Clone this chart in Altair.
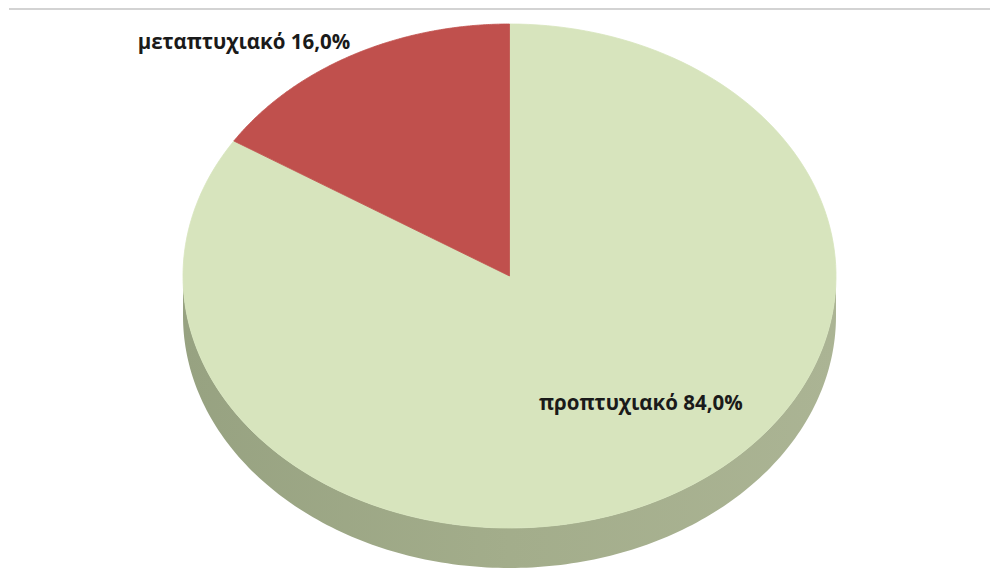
import altair as alt
import pandas as pd

# ---- data ----
categories = ["προπτυχιακό", "μεταπτυχιακό"]
values = [84.0, 16.0]
labels = ["προπτυχιακό 84,0%", "μεταπτυχιακό 16,0%"]
colors = ["#d7e4bd", "#c0504d"]
order = [0, 1]

df = pd.DataFrame({"category": categories, "value": values, "label": labels, "order": order})

N = 180
W, H = 982, 569
xs = alt.Scale(domain=[-1, 1], range=[175, 828])
ys = alt.Scale(domain=[-1, 1], range=[520, 16])
DEPTH = 40 / 252.0  # pie thickness in scale units

base = alt.Chart(df).transform_window(
    cum="sum(value)", sort=[alt.SortField("order")], frame=[None, 0]
).transform_joinaggregate(
    total="sum(value)"
).transform_calculate(
    f1="datum.cum / datum.total",
    f0="(datum.cum - datum.value) / datum.total",
)

slices = base.transform_calculate(
    k=f"sequence(-1, {N + 2})"
).transform_flatten(["k"]).transform_calculate(
    t=f"datum.f0 + (datum.f1 - datum.f0) * clamp(datum.k, 0, {N}) / {N}",
).transform_calculate(
    px=f"(datum.k < 0 || datum.k > {N}) ? 0 : sin(2 * PI * datum.t)",
    py=f"(datum.k < 0 || datum.k > {N}) ? 0 : cos(2 * PI * datum.t)",
).mark_line(interpolate="linear-closed", strokeWidth=0.8).encode(
    x=alt.X("px:Q", scale=xs, axis=None),
    y=alt.Y("py:Q", scale=ys, axis=None),
    fill=alt.Fill("category:N", scale=alt.Scale(domain=categories, range=colors), legend=None),
    stroke=alt.Stroke("category:N", scale=alt.Scale(domain=categories, range=colors), legend=None),
    order=alt.Order("k:Q"),
    detail="category:N",
)

side_grad = alt.Gradient(
    gradient="linear",
    stops=[
        alt.GradientStop(color="#97a281", offset=0),
        alt.GradientStop(color="#a3ad8b", offset=0.5),
        alt.GradientStop(color="#abb494", offset=1),
    ],
    x1=0, x2=1, y1=0, y2=0,
)

side = alt.Chart(alt.sequence(0, 181, as_="deg")).transform_calculate(
    a="(90 + datum.deg) * PI / 180"
).transform_calculate(
    sx="sin(datum.a)", sy="cos(datum.a)"
).transform_calculate(
    sy2=f"datum.sy - {DEPTH}"
).mark_area(color=side_grad).encode(
    x=alt.X("sx:Q", scale=xs, axis=None),
    y=alt.Y("sy:Q", scale=ys, axis=None),
    y2="sy2:Q",
)

font = "Open Sans"
FS = 20.5

lab_small = base.transform_filter(alt.datum.order == 1).transform_calculate(
    mid="(datum.f0 + datum.f1) / 2"
).transform_calculate(
    lx="1.0 * sin(2 * PI * datum.mid)", ly="1.0 * cos(2 * PI * datum.mid)"
).mark_text(font=font, fontSize=FS, fontWeight="bold", align="right",
            baseline="middle", dx=-2, dy=-12, color="#1a1a1a").encode(
    x=alt.X("lx:Q", scale=xs, axis=None),
    y=alt.Y("ly:Q", scale=ys, axis=None),
    text="label:N",
)

lab_big = base.transform_filter(alt.datum.order == 0).transform_calculate(
    mid="(datum.f0 + datum.f1) / 2"
).transform_calculate(
    lx="0.6 * sin(2 * PI * datum.mid)", ly="0.6 * cos(2 * PI * datum.mid)"
).mark_text(font=font, fontSize=FS, fontWeight="bold", align="center",
            baseline="middle", dx=37, dy=-4, color="#1a1a1a").encode(
    x=alt.X("lx:Q", scale=xs, axis=None),
    y=alt.Y("ly:Q", scale=ys, axis=None),
    text="label:N",
)

frame_line = alt.Chart(pd.DataFrame({"a": [0]})).mark_rule(
    color="#c4c4c4", strokeWidth=1.5
).encode(x=alt.value(1), x2=alt.value(990), y=alt.value(1))

chart = alt.layer(frame_line, side, slices, lab_small, lab_big).properties(
    width=W, height=H, padding=0, autosize=alt.AutoSizeParams(type="none")
).configure_view(stroke=None)

chart.save("out.html", embed_options={"renderer": "svg", "actions": False})
